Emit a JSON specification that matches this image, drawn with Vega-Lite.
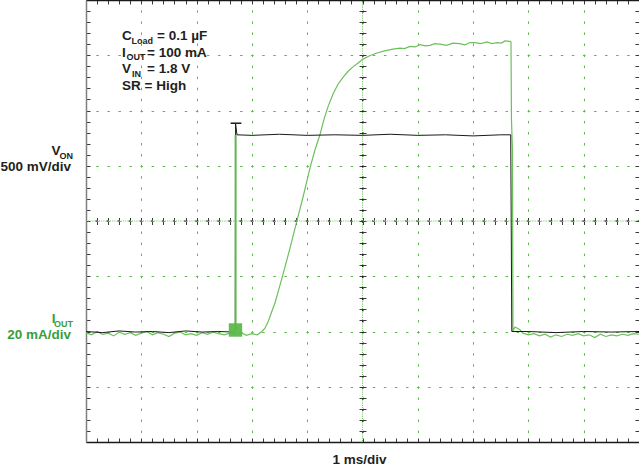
{
  "$schema": "https://vega.github.io/schema/vega-lite/v6.json",
  "width": 553,
  "height": 442,
  "autosize": {"type": "none"},
  "padding": {"left": 86, "top": 0, "right": 0, "bottom": 26},
  "background": "white",
  "config": {"view": {"stroke": null}, "font": "Liberation Sans", "text": {"font": "Liberation Sans", "fontWeight": "bold"}},
  "data": {"values": [{}]},
  "datasets": {
    "trace": [
      {"s": "I", "t": 0.0, "d": -2.02}, {"s": "I", "t": 0.1, "d": -2.06}, {"s": "I", "t": 0.2, "d": -2.0}, {"s": "I", "t": 0.3, "d": -2.05},
      {"s": "I", "t": 0.4, "d": -2.03}, {"s": "I", "t": 0.5, "d": -2.08}, {"s": "I", "t": 0.6, "d": -2.01}, {"s": "I", "t": 0.7, "d": -2.05},
      {"s": "I", "t": 0.8, "d": -2.02}, {"s": "I", "t": 0.9, "d": -2.07}, {"s": "I", "t": 1.0, "d": -2.03}, {"s": "I", "t": 1.1, "d": -2.0},
      {"s": "I", "t": 1.2, "d": -2.06}, {"s": "I", "t": 1.3, "d": -2.02}, {"s": "I", "t": 1.4, "d": -2.05}, {"s": "I", "t": 1.5, "d": -2.09},
      {"s": "I", "t": 1.6, "d": -2.03}, {"s": "I", "t": 1.7, "d": -2.01}, {"s": "I", "t": 1.8, "d": -2.06}, {"s": "I", "t": 1.9, "d": -2.04},
      {"s": "I", "t": 2.0, "d": -2.07}, {"s": "I", "t": 2.1, "d": -2.02}, {"s": "I", "t": 2.2, "d": -2.05}, {"s": "I", "t": 2.3, "d": -2.01},
      {"s": "I", "t": 2.4, "d": -2.04}, {"s": "I", "t": 2.5, "d": -2.06}, {"s": "I", "t": 2.6, "d": -2.03}, {"s": "I", "t": 2.7, "d": -2.05},
      {"s": "I", "t": 2.8, "d": -2.02}, {"s": "I", "t": 2.9, "d": -2.07}, {"s": "I", "t": 3.0, "d": -2.04}, {"s": "I", "t": 3.1, "d": -2.06},
      {"s": "I", "t": 3.18, "d": -2.0}, {"s": "I", "t": 3.237, "d": -1.94}, {"s": "I", "t": 3.291, "d": -1.83}, {"s": "I", "t": 3.345, "d": -1.68},
      {"s": "I", "t": 3.418, "d": -1.48}, {"s": "I", "t": 3.508, "d": -1.16}, {"s": "I", "t": 3.599, "d": -0.83}, {"s": "I", "t": 3.689, "d": -0.49},
      {"s": "I", "t": 3.81, "d": -0.01}, {"s": "I", "t": 3.924, "d": 0.43}, {"s": "I", "t": 4.051, "d": 0.96}, {"s": "I", "t": 4.141, "d": 1.29},
      {"s": "I", "t": 4.231, "d": 1.56}, {"s": "I", "t": 4.30, "d": 1.83}, {"s": "I", "t": 4.38, "d": 2.08}, {"s": "I", "t": 4.467, "d": 2.3},
      {"s": "I", "t": 4.56, "d": 2.48}, {"s": "I", "t": 4.647, "d": 2.6}, {"s": "I", "t": 4.74, "d": 2.71},
      {"s": "I", "t": 4.828, "d": 2.79}, {"s": "I", "t": 4.92, "d": 2.86}, {"s": "I", "t": 5.009, "d": 2.93}, {"s": "I", "t": 5.13, "d": 2.99}, {"s": "I", "t": 5.262, "d": 3.04}, {"s": "I", "t": 5.40, "d": 3.08}, {"s": "I", "t": 5.552, "d": 3.11},
      {"s": "I", "t": 5.678, "d": 3.13}, {"s": "I", "t": 5.76, "d": 3.12}, {"s": "I", "t": 5.859, "d": 3.16}, {"s": "I", "t": 5.95, "d": 3.15}, {"s": "I", "t": 6.04, "d": 3.19}, {"s": "I", "t": 6.13, "d": 3.17}, {"s": "I", "t": 6.221, "d": 3.18},
      {"s": "I", "t": 6.31, "d": 3.21}, {"s": "I", "t": 6.401, "d": 3.2}, {"s": "I", "t": 6.52, "d": 3.18}, {"s": "I", "t": 6.637, "d": 3.22}, {"s": "I", "t": 6.75, "d": 3.21}, {"s": "I", "t": 6.854, "d": 3.19}, {"s": "I", "t": 6.94, "d": 3.23}, {"s": "I", "t": 7.034, "d": 3.23},
      {"s": "I", "t": 7.14, "d": 3.21}, {"s": "I", "t": 7.251, "d": 3.24}, {"s": "I", "t": 7.34, "d": 3.21}, {"s": "I", "t": 7.432, "d": 3.23}, {"s": "I", "t": 7.51, "d": 3.22}, {"s": "I", "t": 7.577, "d": 3.26}, {"s": "I", "t": 7.667, "d": 3.25},
      {"s": "I", "t": 7.685, "d": 3.24}, {"s": "I", "t": 7.694, "d": 1.83}, {"s": "I", "t": 7.712, "d": 1.29}, {"s": "I", "t": 7.721, "d": -1.99},
      {"s": "I", "t": 7.758, "d": -1.92}, {"s": "I", "t": 7.848, "d": -1.97}, {"s": "I", "t": 7.9, "d": -2.03}, {"s": "I", "t": 8.0, "d": -2.06},
      {"s": "I", "t": 8.1, "d": -2.04}, {"s": "I", "t": 8.2, "d": -2.08}, {"s": "I", "t": 8.3, "d": -2.05}, {"s": "I", "t": 8.4, "d": -2.1},
      {"s": "I", "t": 8.5, "d": -2.06}, {"s": "I", "t": 8.6, "d": -2.09}, {"s": "I", "t": 8.7, "d": -2.05}, {"s": "I", "t": 8.8, "d": -2.07},
      {"s": "I", "t": 8.9, "d": -2.04}, {"s": "I", "t": 9.0, "d": -2.08}, {"s": "I", "t": 9.1, "d": -2.06}, {"s": "I", "t": 9.2, "d": -2.11},
      {"s": "I", "t": 9.3, "d": -2.05}, {"s": "I", "t": 9.4, "d": -2.09}, {"s": "I", "t": 9.5, "d": -2.06}, {"s": "I", "t": 9.6, "d": -2.08},
      {"s": "I", "t": 9.7, "d": -2.05}, {"s": "I", "t": 9.8, "d": -2.07}, {"s": "I", "t": 9.9, "d": -2.04}, {"s": "I", "t": 10.0, "d": -2.05},
      {"s": "V", "t": 0.0, "d": -2.0}, {"s": "V", "t": 0.3, "d": -2.02}, {"s": "V", "t": 0.6, "d": -1.99}, {"s": "V", "t": 0.9, "d": -2.01},
      {"s": "V", "t": 1.2, "d": -2.0}, {"s": "V", "t": 1.5, "d": -2.02}, {"s": "V", "t": 1.8, "d": -1.99}, {"s": "V", "t": 2.1, "d": -2.01},
      {"s": "V", "t": 2.4, "d": -2.0}, {"s": "V", "t": 2.69, "d": -2.01}, {"s": "V", "t": 2.70, "d": -2.01}, {"s": "V", "t": 2.705, "d": 1.76},
      {"s": "V", "t": 2.73, "d": 1.56}, {"s": "V", "t": 3.0, "d": 1.55}, {"s": "V", "t": 3.5, "d": 1.57}, {"s": "V", "t": 4.0, "d": 1.55},
      {"s": "V", "t": 4.5, "d": 1.56}, {"s": "V", "t": 5.0, "d": 1.55}, {"s": "V", "t": 5.5, "d": 1.57}, {"s": "V", "t": 6.0, "d": 1.55},
      {"s": "V", "t": 6.5, "d": 1.56}, {"s": "V", "t": 7.0, "d": 1.54}, {"s": "V", "t": 7.5, "d": 1.56}, {"s": "V", "t": 7.68, "d": 1.56},
      {"s": "V", "t": 7.70, "d": -2.0}, {"s": "V", "t": 8.0, "d": -2.0}, {"s": "V", "t": 8.5, "d": -2.02}, {"s": "V", "t": 9.0, "d": -2.0},
      {"s": "V", "t": 9.5, "d": -2.01}, {"s": "V", "t": 10.0, "d": -2.0}
    ]
  },
  "layer": [
    {
      "mark": {"type": "rule", "color": "#6cc05c", "strokeWidth": 1, "strokeDash": [1, 1.2]},
      "encoding": {
        "x": {"datum": 5, "type": "quantitative", "scale": {"domain": [0, 10], "nice": false, "zero": false},
          "axis": {"orient": "top", "values": [0, 1, 2, 3, 4, 5, 6, 7, 8, 9, 10], "grid": true, "gridColor": "#5cb84c", "gridWidth": 1, "gridDash": [2.5, 8.56], "gridDashOffset": 1.25,
            "ticks": false, "labels": false, "domain": true, "domainColor": "#1a1a1a", "domainWidth": 1.5, "title": null}}
      }
    },
    {
      "mark": {"type": "rule", "color": "#6cc05c", "strokeWidth": 1, "strokeDash": [1, 1.2]},
      "encoding": {
        "y": {"datum": 0, "type": "quantitative", "scale": {"domain": [-4, 4], "nice": false, "zero": false},
          "axis": {"orient": "left", "values": [-4, -3, -2, -1, 0, 1, 2, 3, 4], "grid": true, "gridColor": "#5cb84c", "gridWidth": 1, "gridDash": [2.5, 8.56], "gridDashOffset": 1.25,
            "ticks": false, "labels": false, "domain": true, "domainColor": "#808080", "domainWidth": 1.5, "title": null}}
      }
    },
    {
      "mark": {"type": "rule", "color": "#1a1a1a", "strokeWidth": 1, "strokeDash": [1.5, 9.56]},
      "encoding": {"x": {"datum": 5, "type": "quantitative", "scale": {"domain": [0, 10]}, "axis": null}}
    },
    {
      "mark": {"type": "rule", "color": "#1a1a1a", "strokeWidth": 1, "strokeDash": [1.5, 9.56]},
      "encoding": {"y": {"datum": 0, "type": "quantitative", "scale": {"domain": [-4, 4]}, "axis": null}}
    },
    {
      "data": {"name": "trace"},
      "transform": [{"filter": "datum.s === 'I'"}],
      "mark": {"type": "line", "color": "#6cc05c", "strokeWidth": 1.2, "interpolate": "linear"},
      "encoding": {
        "x": {"field": "t", "type": "quantitative", "scale": {"domain": [0, 10], "nice": false, "zero": false},
          "axis": {"orient": "bottom", "values": [0, 0.2, 0.4, 0.6, 0.8, 1, 1.2, 1.4, 1.6, 1.8, 2, 2.2, 2.4, 2.6, 2.8, 3, 3.2, 3.4, 3.6, 3.8, 4, 4.2, 4.4, 4.6, 4.8, 5, 5.2, 5.4, 5.6, 5.8, 6, 6.2, 6.4, 6.6, 6.8, 7, 7.2, 7.4, 7.6, 7.8, 8, 8.2, 8.4, 8.6, 8.8, 9, 9.2, 9.4, 9.6, 9.8, 10],
            "grid": true, "gridColor": "#3a3a3a", "gridWidth": 1, "gridDash": [4, 213.5, 7, 213.5, 4, 1000],
            "ticks": false, "labels": false, "domain": true, "domainColor": "#1a1a1a", "domainWidth": 1.5, "title": null}},
        "y": {"field": "d", "type": "quantitative", "scale": {"domain": [-4, 4], "nice": false, "zero": false},
          "axis": {"orient": "right", "values": [-4, -3.8, -3.6, -3.4, -3.2, -3, -2.8, -2.6, -2.4, -2.2, -2, -1.8, -1.6, -1.4, -1.2, -1, -0.8, -0.6, -0.4, -0.2, 0, 0.2, 0.4, 0.6, 0.8, 1, 1.2, 1.4, 1.6, 1.8, 2, 2.2, 2.4, 2.6, 2.8, 3, 3.2, 3.4, 3.6, 3.8, 4],
            "grid": true, "gridColor": "#3a3a3a", "gridWidth": 1, "gridDash": [4, 269, 7, 269, 4, 1000],
            "ticks": false, "labels": false, "domain": false, "title": null}}
      }
    },
    {
      "data": {"name": "trace"},
      "transform": [{"filter": "datum.s === 'V'"}],
      "mark": {"type": "line", "color": "#1a1a1a", "strokeWidth": 1, "interpolate": "linear"},
      "encoding": {
        "x": {"field": "t", "type": "quantitative", "scale": {"domain": [0, 10]}, "axis": null},
        "y": {"field": "d", "type": "quantitative", "scale": {"domain": [-4, 4]}, "axis": null}
      }
    },
    {
      "mark": {"type": "rule", "color": "#1a1a1a", "strokeWidth": 1.5},
      "encoding": {
        "x": {"datum": 2.615, "type": "quantitative", "scale": {"domain": [0, 10]}, "axis": null},
        "x2": {"datum": 2.81},
        "y": {"datum": 1.77, "type": "quantitative", "scale": {"domain": [-4, 4]}, "axis": null}
      }
    },
    {
      "mark": {"type": "rule", "color": "#5cb84c", "strokeWidth": 2},
      "encoding": {
        "x": {"datum": 2.705, "type": "quantitative", "scale": {"domain": [0, 10]}, "axis": null},
        "y": {"datum": -2.0, "type": "quantitative", "scale": {"domain": [-4, 4]}, "axis": null},
        "y2": {"datum": 1.56}
      }
    },
    {
      "mark": {"type": "point", "shape": "square", "filled": true, "color": "#5cb84c", "opacity": 0.95, "size": 180},
      "encoding": {
        "x": {"datum": 2.703, "type": "quantitative", "scale": {"domain": [0, 10]}, "axis": null},
        "y": {"datum": -1.973, "type": "quantitative", "scale": {"domain": [-4, 4]}, "axis": null}
      }
    },
    {"mark": {"type": "text", "text": "C", "align": "left", "baseline": "alphabetic", "fontSize": 13.5, "color": "#231f20"},
      "encoding": {"x": {"datum": 0.651, "type": "quantitative", "scale": {"domain": [0, 10]}, "axis": null}, "y": {"datum": 3.267, "type": "quantitative", "scale": {"domain": [-4, 4]}, "axis": null}}},
    {"mark": {"type": "text", "text": "Load", "align": "left", "baseline": "alphabetic", "fontSize": 9, "color": "#231f20"},
      "encoding": {"x": {"datum": 0.823, "type": "quantitative", "scale": {"domain": [0, 10]}, "axis": null}, "y": {"datum": 3.204, "type": "quantitative", "scale": {"domain": [-4, 4]}, "axis": null}}},
    {"mark": {"type": "text", "text": "= 0.1 µF", "align": "left", "baseline": "alphabetic", "fontSize": 13.5, "color": "#231f20"},
      "encoding": {"x": {"datum": 1.284, "type": "quantitative", "scale": {"domain": [0, 10]}, "axis": null}, "y": {"datum": 3.267, "type": "quantitative", "scale": {"domain": [-4, 4]}, "axis": null}}},
    {"mark": {"type": "text", "text": "I", "align": "left", "baseline": "alphabetic", "fontSize": 13.5, "color": "#231f20"},
      "encoding": {"x": {"datum": 0.651, "type": "quantitative", "scale": {"domain": [0, 10]}, "axis": null}, "y": {"datum": 2.963, "type": "quantitative", "scale": {"domain": [-4, 4]}, "axis": null}}},
    {"mark": {"type": "text", "text": "OUT", "align": "left", "baseline": "alphabetic", "fontSize": 9, "color": "#231f20"},
      "encoding": {"x": {"datum": 0.732, "type": "quantitative", "scale": {"domain": [0, 10]}, "axis": null}, "y": {"datum": 2.905, "type": "quantitative", "scale": {"domain": [-4, 4]}, "axis": null}}},
    {"mark": {"type": "text", "text": "= 100 mA", "align": "left", "baseline": "alphabetic", "fontSize": 13.5, "color": "#231f20"},
      "encoding": {"x": {"datum": 1.103, "type": "quantitative", "scale": {"domain": [0, 10]}, "axis": null}, "y": {"datum": 2.963, "type": "quantitative", "scale": {"domain": [-4, 4]}, "axis": null}}},
    {"mark": {"type": "text", "text": "V", "align": "left", "baseline": "alphabetic", "fontSize": 13.5, "color": "#231f20"},
      "encoding": {"x": {"datum": 0.651, "type": "quantitative", "scale": {"domain": [0, 10]}, "axis": null}, "y": {"datum": 2.673, "type": "quantitative", "scale": {"domain": [-4, 4]}, "axis": null}}},
    {"mark": {"type": "text", "text": "IN", "align": "left", "baseline": "alphabetic", "fontSize": 9, "color": "#231f20"},
      "encoding": {"x": {"datum": 0.832, "type": "quantitative", "scale": {"domain": [0, 10]}, "axis": null}, "y": {"datum": 2.615, "type": "quantitative", "scale": {"domain": [-4, 4]}, "axis": null}}},
    {"mark": {"type": "text", "text": "= 1.8 V", "align": "left", "baseline": "alphabetic", "fontSize": 13.5, "color": "#231f20"},
      "encoding": {"x": {"datum": 1.103, "type": "quantitative", "scale": {"domain": [0, 10]}, "axis": null}, "y": {"datum": 2.673, "type": "quantitative", "scale": {"domain": [-4, 4]}, "axis": null}}},
    {"mark": {"type": "text", "text": "SR = High", "align": "left", "baseline": "alphabetic", "fontSize": 13.5, "color": "#231f20"},
      "encoding": {"x": {"datum": 0.651, "type": "quantitative", "scale": {"domain": [0, 10]}, "axis": null}, "y": {"datum": 2.362, "type": "quantitative", "scale": {"domain": [-4, 4]}, "axis": null}}},
    {"mark": {"type": "text", "text": "V", "align": "right", "baseline": "alphabetic", "fontSize": 13.5, "color": "#231f20"},
      "encoding": {"x": {"datum": -0.461, "type": "quantitative", "scale": {"domain": [0, 10]}, "axis": null}, "y": {"datum": 1.186, "type": "quantitative", "scale": {"domain": [-4, 4]}, "axis": null}}},
    {"mark": {"type": "text", "text": "ON", "align": "right", "baseline": "alphabetic", "fontSize": 9, "color": "#231f20"},
      "encoding": {"x": {"datum": -0.235, "type": "quantitative", "scale": {"domain": [0, 10]}, "axis": null}, "y": {"datum": 1.122, "type": "quantitative", "scale": {"domain": [-4, 4]}, "axis": null}}},
    {"mark": {"type": "text", "text": "500 mV/div", "align": "right", "baseline": "alphabetic", "fontSize": 13.5, "color": "#231f20"},
      "encoding": {"x": {"datum": -0.271, "type": "quantitative", "scale": {"domain": [0, 10]}, "axis": null}, "y": {"datum": 0.896, "type": "quantitative", "scale": {"domain": [-4, 4]}, "axis": null}}},
    {"mark": {"type": "text", "text": "I", "align": "right", "baseline": "alphabetic", "fontSize": 13.5, "color": "#3a9e3a"},
      "encoding": {"x": {"datum": -0.552, "type": "quantitative", "scale": {"domain": [0, 10]}, "axis": null}, "y": {"datum": -1.855, "type": "quantitative", "scale": {"domain": [-4, 4]}, "axis": null}}},
    {"mark": {"type": "text", "text": "OUT", "align": "right", "baseline": "alphabetic", "fontSize": 9, "color": "#3a9e3a"},
      "encoding": {"x": {"datum": -0.235, "type": "quantitative", "scale": {"domain": [0, 10]}, "axis": null}, "y": {"datum": -1.91, "type": "quantitative", "scale": {"domain": [-4, 4]}, "axis": null}}},
    {"mark": {"type": "text", "text": "20 mA/div", "align": "right", "baseline": "alphabetic", "fontSize": 13.5, "color": "#3a9e3a"},
      "encoding": {"x": {"datum": -0.271, "type": "quantitative", "scale": {"domain": [0, 10]}, "axis": null}, "y": {"datum": -2.136, "type": "quantitative", "scale": {"domain": [-4, 4]}, "axis": null}}},
    {"mark": {"type": "text", "text": "1 ms/div", "align": "center", "baseline": "alphabetic", "fontSize": 13.5, "color": "#231f20"},
      "encoding": {"x": {"datum": 4.946, "type": "quantitative", "scale": {"domain": [0, 10]}, "axis": null}, "y": {"datum": -4.405, "type": "quantitative", "scale": {"domain": [-4, 4]}, "axis": null}}}
  ],
  "resolve": {"axis": {"x": "independent", "y": "independent"}}
}
